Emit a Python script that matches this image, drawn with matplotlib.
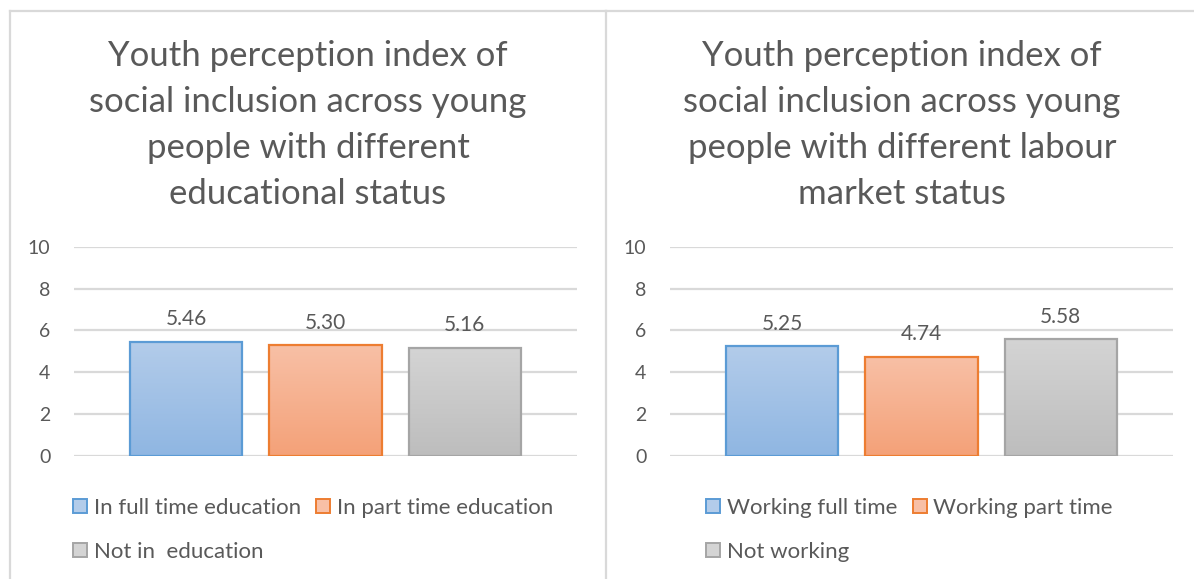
import matplotlib
matplotlib.use("Agg")
import matplotlib.pyplot as plt
import numpy as np
from matplotlib.patches import Rectangle
from matplotlib.lines import Line2D
from matplotlib.colors import LinearSegmentedColormap

# ---- data ----
edu_labels = ["In full time education", "In part time education", "Not in  education"]
edu_values = [5.46, 5.30, 5.16]
lab_labels = ["Working full time", "Working part time", "Not working"]
lab_values = [5.25, 4.74, 5.58]
yticks = [0, 2, 4, 6, 8, 10]
title_left = "Youth perception index of\nsocial inclusion across young\npeople with different\neducational status"
title_right = "Youth perception index of\nsocial inclusion across young\npeople with different labour\nmarket status"

edge_cols = ["#5B9BD5", "#ED7D31", "#A5A5A5"]
top_cols = ["#B3CCEA", "#F8C0A6", "#D4D4D4"]
bot_cols = ["#8FB6E2", "#F4A178", "#BDBDBD"]
txt = "#595959"
grid = "#D9D9D9"
FONT = "Lato"

W, H = 1194, 579
fig = plt.figure(figsize=(W / 100, H / 100), dpi=100)
fig.patch.set_facecolor("white")


def fx(px):
    return px / W


def fy(py):
    return 1 - py / H


# panel borders
for xs, ys in [([10, 606], [11, 11]), ([606, 1194], [11, 11]),
               ([10, 10], [11, 579]), ([606, 606], [11, 579])]:
    fig.add_artist(Line2D([fx(x) for x in xs], [fy(y) for y in ys],
                          color="#D9D9D9", lw=1.6, transform=fig.transFigure))


def panel(ax_left_px, values, labels, title, title_cx, leg_x0):
    ax = fig.add_axes([fx(ax_left_px), fy(456), 503 / W, (456 - 246.7) / H])
    w = 1.0
    step = 1.24
    xs = [i * step for i in range(len(values))]
    bars = ax.bar(xs, values, width=w, color="none", edgecolor=edge_cols,
                  linewidth=1.6, zorder=3)
    for b, tc, bc, ec in zip(bars, top_cols, bot_cols, edge_cols):
        cmap = LinearSegmentedColormap.from_list("g", [bc, tc])
        grad = np.linspace(0, 1, 256).reshape(-1, 1)
        x0, y0 = b.get_x(), b.get_y()
        im = ax.imshow(grad, cmap=cmap, origin="lower", aspect="auto",
                       extent=[x0, x0 + b.get_width(), y0, y0 + b.get_height()],
                       zorder=2)
        im.set_clip_path(b)
        b.set_facecolor("none")
    for x, v in zip(xs, values):
        ax.text(x, v + 0.6, f"{v:.2f}", ha="center", va="bottom",
                fontsize=15, color=txt, family=FONT)
    ax.set_xlim(-1.0, xs[-1] + 1.0)
    ax.set_ylim(0, 10)
    ax.set_yticks(yticks)
    ax.set_yticklabels([str(t) for t in yticks], family=FONT, fontsize=14, color=txt)
    ax.tick_params(axis="y", length=0, pad=17)
    ax.set_xticks([])
    for s in ax.spines.values():
        s.set_visible(False)
    ax.yaxis.grid(True, color=grid, lw=1.6, zorder=0)
    ax.set_axisbelow(True)
    ax.set_facecolor("none")

    fig.text(fx(title_cx), fy(125), title, ha="center", va="center",
             fontsize=25, color=txt, family=FONT,
             linespacing=1.53)

    # legend
    handles = [Rectangle((0, 0), 1, 1, facecolor=(tc), edgecolor=ec, lw=1.4)
               for tc, ec in zip(top_cols, edge_cols)]
    order = [0, 2, 1]
    leg = fig.legend([handles[i] for i in order], [labels[i] for i in order],
                     ncol=2, loc="upper left",
                     bbox_to_anchor=(fx(leg_x0), fy(498)), frameon=False,
                     prop={"family": FONT, "size": 16}, labelcolor=txt,
                     handlelength=0.63, handleheight=0.63, handletextpad=0.3,
                     columnspacing=0.7, labelspacing=1.08, borderpad=0,
                     borderaxespad=0)
    return ax


panel(74, edu_values, edu_labels, title_left, 308, 73)
panel(670, lab_values, lab_labels, title_right, 902, 706)

fig.savefig("out.png", dpi=100, facecolor="white")
